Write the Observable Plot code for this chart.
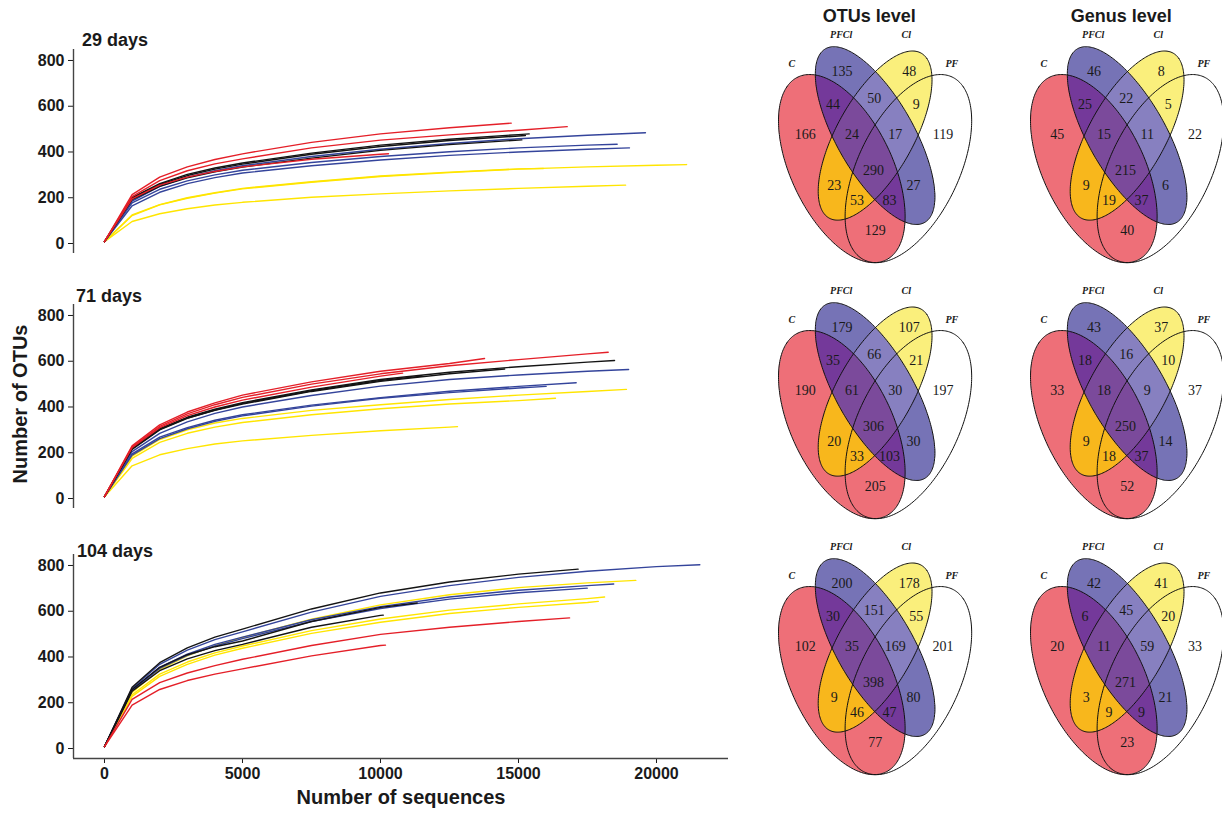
<!DOCTYPE html>
<html>
<head>
<meta charset="utf-8">
<script src="https://cdn.jsdelivr.net/npm/d3@7"></script>
<script src="https://cdn.jsdelivr.net/npm/@observablehq/plot@0.6"></script>
<style>
  html, body { margin: 0; padding: 0; background: white; }
  #root { position: relative; width: 1222px; height: 814px; background: white; overflow: hidden; }
  #root > svg, #root > div { position: absolute; }
  .lbl { font-family: "Liberation Sans", Arial, sans-serif; font-weight: bold; color: #1a1a1a; white-space: nowrap; line-height: 1; }
</style>
</head>
<body>
<div id="root"></div>
<script>
// ---------------- Rarefaction data ----------------
// shared sampling grid (number of sequences)
const SEQ = [0, 1000, 2000, 3000, 4000, 5000, 7500, 10000, 12500, 15000, 17500, 20000];
const X_TICKS = [0, 5000, 10000, 15000, 20000];
const Y_TICKS = [0, 200, 400, 600, 800];
const PANEL_TITLES = ["29 days", "71 days", "104 days"];
const GROUP_COLORS = {C: "#e41f28", PFCl: "#34449b", Cl: "#ffe500", PF: "#141414"};

// [group, end sequences, end OTUs, OTUs on SEQ grid before the end]
const day29 = [
  ["Cl", 21090, 345, [8, 122, 169, 198, 220, 239, 268, 293, 310, 325, 335, 342]],
  ["Cl", 15900, 328, [8, 125, 170, 200, 222, 241, 270, 295, 312, 326]],
  ["Cl", 18880, 255, [8, 96, 130, 152, 168, 180, 202, 217, 230, 241, 250]],
  ["PFCl", 19600, 484, [8, 185, 250, 290, 318, 340, 380, 412, 437, 458, 473]],
  ["PFCl", 18575, 434, [8, 178, 237, 274, 300, 320, 354, 380, 401, 418, 430]],
  ["PFCl", 19020, 418, [8, 165, 224, 262, 288, 308, 340, 365, 385, 400, 412]],
  ["PF", 15388, 479, [8, 200, 262, 302, 330, 352, 395, 430, 456, 476]],
  ["PF", 15250, 472, [8, 197, 258, 297, 325, 347, 390, 424, 450, 470]],
  ["PF", 15120, 453, [8, 192, 250, 287, 313, 334, 373, 407, 432, 452]],
  ["C", 14735, 526, [8, 214, 290, 335, 367, 392, 442, 479, 506]],
  ["C", 16765, 511, [8, 205, 275, 318, 348, 370, 418, 452, 475, 495]],
  ["C", 10290, 392, [8, 195, 255, 290, 315, 335, 368, 390]]
];
const day71 = [
  ["Cl", 18910, 477, [8, 185, 258, 300, 330, 350, 385, 410, 433, 452, 468]],
  ["Cl", 16340, 438, [8, 175, 245, 285, 312, 332, 366, 392, 413, 428]],
  ["Cl", 12790, 314, [8, 143, 191, 218, 238, 252, 276, 296, 312]],
  ["PFCl", 18990, 564, [8, 205, 285, 335, 372, 400, 450, 491, 520, 540, 556]],
  ["PFCl", 17090, 506, [8, 195, 268, 310, 342, 366, 408, 441, 469, 490]],
  ["PFCl", 16000, 490, [8, 190, 262, 305, 337, 361, 404, 438, 463, 483]],
  ["PF", 18480, 603, [8, 220, 305, 355, 390, 419, 475, 520, 552, 576, 596]],
  ["PF", 14500, 566, [8, 215, 300, 350, 385, 413, 468, 512, 545]],
  ["PF", 11500, 535, [8, 218, 302, 352, 387, 416, 471, 516]],
  ["C", 13770, 612, [8, 230, 322, 378, 418, 452, 510, 556, 590]],
  ["C", 18250, 639, [8, 225, 315, 370, 410, 442, 500, 545, 580, 607, 632]],
  ["C", 10800, 548, [8, 222, 310, 362, 400, 430, 487, 535]]
];
const day104 = [
  ["Cl", 19250, 735, [8, 245, 345, 405, 450, 485, 565, 628, 672, 703, 724]],
  ["Cl", 18120, 662, [8, 235, 325, 378, 418, 448, 515, 566, 605, 632, 655]],
  ["Cl", 17890, 643, [8, 228, 315, 368, 408, 438, 503, 552, 590, 617, 638]],
  ["PFCl", 21570, 803, [8, 262, 368, 430, 476, 510, 596, 665, 712, 748, 775, 795]],
  ["PFCl", 18450, 719, [8, 255, 355, 412, 455, 487, 563, 620, 662, 692, 712]],
  ["PFCl", 17490, 701, [8, 252, 350, 407, 448, 480, 555, 612, 653, 681]],
  ["PF", 17160, 784, [8, 268, 375, 440, 487, 522, 610, 680, 728, 762]],
  ["PF", 11330, 636, [8, 258, 355, 410, 445, 470, 555, 617]],
  ["PF", 10100, 583, [8, 250, 340, 392, 428, 455, 530, 582]],
  ["C", 16850, 571, [8, 215, 288, 330, 362, 390, 450, 499, 530, 555]],
  ["C", 10180, 452, [8, 190, 258, 297, 325, 348, 405, 450]]
];

// ---------------- Venn data ----------------
// region order: PFCl, Cl, C&PFCl, PFCl&Cl, Cl&PF, C, C&PFCl&Cl, PFCl&Cl&PF, PF, all, C&Cl, C&Cl&PF, C&PFCl&PF, PFCl&PF, C&PF
const VENN_TITLES = ["OTUs level", "Genus level"];
const SET_NAMES = ["PFCl", "Cl", "C", "PF"];
const otu29 = [135, 48, 44, 50, 9, 166, 24, 17, 119, 290, 23, 53, 83, 27, 129];
const genus29 = [46, 8, 25, 22, 5, 45, 15, 11, 22, 215, 9, 19, 37, 6, 40];
const otu71 = [179, 107, 35, 66, 21, 190, 61, 30, 197, 306, 20, 33, 103, 30, 205];
const genus71 = [43, 37, 18, 16, 10, 33, 18, 9, 37, 250, 9, 18, 37, 14, 52];
const otu104 = [200, 178, 30, 151, 55, 102, 35, 169, 201, 398, 9, 46, 47, 80, 77];
const genus104 = [42, 41, 6, 45, 20, 20, 11, 59, 33, 271, 3, 9, 9, 21, 23];

// ---------------- layout (not data) ----------------
const REGION_POS = [
  [63.4, 23.7], [130.7, 23.7], [54.4, 57], [95.7, 51], [137.7, 57],
  [26.7, 86.7], [73.4, 86.7], [116.7, 86.7], [164.4, 86.7], [95, 123.4],
  [55.7, 138.4], [78.4, 152.7], [111, 152.7], [135, 138.4], [96.7, 182.7]
];
const SET_LABEL_POS = [[62.7, -13], [127.7, -13], [13.4, 16], [173.4, 16]];
// four-ellipse layout in unit space (y up), stretched into the panel
const ELLIPSES = [
  {set: "C", cx: 0.35, cy: 0.47, a: 0.35, b: 0.20, rot: 135},
  {set: "PFCl", cx: 0.50, cy: 0.57, a: 0.35, b: 0.15, rot: 135},
  {set: "Cl", cx: 0.50, cy: 0.57, a: 0.33, b: 0.15, rot: 45},
  {set: "PF", cx: 0.65, cy: 0.47, a: 0.35, b: 0.20, rot: 45}
];
const UNIT = {x0: -14.4, sx: 222, y0: 276.2, sy: 330};
const REGION_COLORS = {"100": "#ee6f78", "010": "#7673b6", "001": "#faef7c", "110": "#74399a", "101": "#f8b71c", "011": "#8780c0", "111": "#7b4a9b"};

const root = document.getElementById("root");
function place(el, left, top) { el.style.left = left + "px"; el.style.top = top + "px"; root.appendChild(el); return el; }
function label(text, left, top, size, extra) {
  const d = document.createElement("div");
  d.className = "lbl"; d.textContent = text; d.style.fontSize = size + "px";
  if (extra) Object.assign(d.style, extra);
  return place(d, left, top);
}

// ---------------- rarefaction panels ----------------
const XD = [-1123, 22609], YD = [-43.7, 848];
function panel(rows, showX) {
  const data = [];
  rows.forEach((r, i) => {
    const [g, ex, ey, vals] = r;
    vals.forEach((v, k) => data.push({id: i, group: g, x: SEQ[k], y: v}));
    data.push({id: i, group: g, x: ex, y: ey});
  });
  const H = showX ? 305 : 258;
  return Plot.plot({
    width: 740, height: H,
    marginLeft: 73, marginRight: 12, marginTop: 49, marginBottom: H - 253,
    x: {domain: XD, ticks: X_TICKS, tickFormat: d3.format("d"), tickSize: 5, tickPadding: 4, axis: showX ? "bottom" : null, label: null},
    y: {domain: YD, ticks: Y_TICKS, tickSize: 5, tickPadding: 4, label: null},
    style: {fontFamily: "'Liberation Sans', Arial, sans-serif", fontSize: "16px", fontWeight: "bold", background: "transparent", color: "#1a1a1a", overflow: "visible"},
    marks: [
      Plot.ruleX([XD[0]], {stroke: "#444", strokeWidth: 1.4}),
      showX ? Plot.ruleY([YD[0]], {stroke: "#444", strokeWidth: 1.4}) : null,
      Plot.line(data, {x: "x", y: "y", z: "id", stroke: d => GROUP_COLORS[d.group], strokeWidth: 1.4})
    ]
  });
}
const panelTops = [0, 255, 505];
[day29, day71, day104].forEach((rows, i) => place(panel(rows, i === 2), 0, panelTops[i]));
label(PANEL_TITLES[0], 82, 31, 18);
label(PANEL_TITLES[1], 76, 287, 18);
label(PANEL_TITLES[2], 77, 542, 18);
label("Number of sequences", 401, 787, 20, {transform: "translateX(-50%)"});
label("Number of OTUs", 20, 404, 20, {transform: "translate(-50%, -50%) rotate(-90deg)"});

// ---------------- Venn diagrams ----------------
function toUnit(x, y) { return [(x - UNIT.x0) / UNIT.sx, (UNIT.y0 - y) / UNIT.sy]; }
function inside(e, x, y) {
  const [ux, uy] = toUnit(x, y);
  const t = e.rot * Math.PI / 180, dx = ux - e.cx, dy = uy - e.cy;
  const u = dx * Math.cos(t) + dy * Math.sin(t), v = -dx * Math.sin(t) + dy * Math.cos(t);
  return (u / e.a) ** 2 + (v / e.b) ** 2 <= 1;
}
const outline = [];
ELLIPSES.forEach(e => {
  const t = e.rot * Math.PI / 180;
  for (let k = 0; k <= 240; ++k) {
    const th = 2 * Math.PI * k / 240, u = e.a * Math.cos(th), v = e.b * Math.sin(th);
    const ux = e.cx + u * Math.cos(t) - v * Math.sin(t), uy = e.cy + u * Math.sin(t) + v * Math.cos(t);
    outline.push({set: e.set, x: UNIT.x0 + ux * UNIT.sx, y: UNIT.y0 - uy * UNIT.sy});
  }
});
const [EC, EP, EY] = ELLIPSES;
function regionFill(x, y) {
  const key = (inside(EC, x, y) ? "1" : "0") + (inside(EP, x, y) ? "1" : "0") + (inside(EY, x, y) ? "1" : "0");
  return REGION_COLORS[key] || null;
}
function venn(values, title) {
  const regions = values.map((v, i) => ({x: REGION_POS[i][0], y: REGION_POS[i][1], text: String(v)}));
  const sets = SET_NAMES.map((s, i) => ({x: SET_LABEL_POS[i][0], y: SET_LABEL_POS[i][1], text: s}));
  return Plot.plot({
    width: 225, height: 270, margin: 0,
    x: {domain: [-15, 210], range: [0, 225], axis: null},
    y: {domain: [-47, 223], range: [0, 270], axis: null},
    color: {type: "identity"},
    style: {background: "transparent", overflow: "visible"},
    marks: [
      Plot.raster({x1: -15, x2: 210, y1: -47, y2: 223, pixelSize: 0.5, fill: regionFill}),
      Plot.line(outline, {x: "x", y: "y", z: "set", stroke: "#111", strokeWidth: 1}),
      Plot.text(regions, {x: "x", y: "y", text: "text", fontFamily: "'Liberation Serif', 'Times New Roman', serif", fontSize: 14, fill: "#1a1a1a"}),
      Plot.text(sets, {x: "x", y: "y", text: "text", fontFamily: "'Liberation Serif', 'Times New Roman', serif", fontSize: 10, fontStyle: "italic", fontWeight: "bold", fill: "#1a1a1a"}),
      title ? Plot.text([title], {x: 90.7, y: -31, text: d => d, fontFamily: "'Liberation Sans', Arial, sans-serif", fontSize: 18, fontWeight: "bold", fill: "#1a1a1a"}) : null
    ]
  });
}
const vennValues = [[otu29, genus29], [otu71, genus71], [otu104, genus104]];
vennValues.forEach((row, r) => row.forEach((vals, c) => {
  const ox = 778.3 + 252 * c, oy = 47.3 + 256 * r;
  place(venn(vals, r === 0 ? VENN_TITLES[c] : null), ox - 15, oy - 47);
}));
</script>
</body>
</html>
